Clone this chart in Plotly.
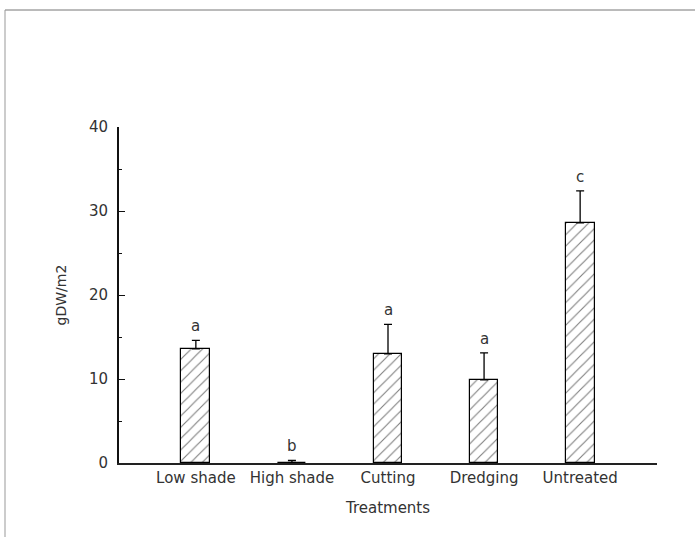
import plotly.graph_objects as go

categories = ["Low shade", "High shade", "Cutting", "Dredging", "Untreated"]
means = [13.6, 0.0, 13.0, 9.9, 28.6]
errors = [1.0, 0.3, 3.5, 3.2, 3.8]
letters = ["a", "b", "a", "a", "c"]
y_ticks = [0, 10, 20, 30, 40]

W, H = 695, 537
L, R, T, B = 119, 38, 127, 74
pw, ph = W - L - R, H - T - B

fig = go.Figure()
fig.add_trace(go.Bar(
    x=list(range(len(categories))), y=means, width=0.3,
    marker=dict(color="white", line=dict(color="black", width=1.2),
                pattern=dict(shape="/", fgcolor="black", bgcolor="white", size=8, solidity=0.14)),
    error_y=dict(type="data", array=errors, arrayminus=[0]*len(errors), symmetric=False,
                 color="black", thickness=1.3, width=4),
    showlegend=False,
))
for i, (m, e, t) in enumerate(zip(means, errors, letters)):
    fig.add_annotation(x=i, y=m + e, text=t, showarrow=False, yanchor="bottom", yshift=3,
                       font=dict(size=15, color="#333", family="DejaVu Sans"))

fig.add_shape(type="line", xref="paper", yref="paper", x0=(5-L)/pw, x1=(W-L)/pw,
              y0=(H-B-10)/ph, y1=(H-B-10)/ph, line=dict(color="#777", width=1))
fig.add_shape(type="line", xref="paper", yref="paper", x0=(5-L)/pw, x1=(5-L)/pw,
              y0=(H-B-10)/ph, y1=(H-B-H)/ph, line=dict(color="#999", width=1))

fig.update_layout(
    width=W, height=H, margin=dict(l=L, r=R, t=T, b=B),
    plot_bgcolor="white", paper_bgcolor="white",
    font=dict(family="DejaVu Sans", size=15, color="#333"),
    bargap=0,
)
fig.update_xaxes(range=[-0.8, 4.8], tickvals=list(range(len(categories))), ticktext=categories,
                 showline=True, linecolor="#222", linewidth=1.5, showgrid=False, ticks="",
                 zeroline=False, title=dict(text="Treatments", standoff=17, font=dict(size=15)),
                 tickfont=dict(size=15, color="#333"))
fig.update_yaxes(range=[0, 40], tickvals=y_ticks, showline=True, linecolor="#111", linewidth=2,
                 ticks="inside", ticklen=6, tickcolor="#111", showgrid=False, zeroline=False,
                 ticklabelstandoff=6,
                 minor=dict(dtick=5, ticks="inside", ticklen=3, tickcolor="#111"),
                 title=dict(text="gDW/m2", standoff=19, font=dict(size=14)),
                 tickfont=dict(size=15, color="#333"))

fig.write_html("out.html", config={"displayModeBar": False},
               post_script="document.body.style.margin='0';document.body.style.padding='0';")
